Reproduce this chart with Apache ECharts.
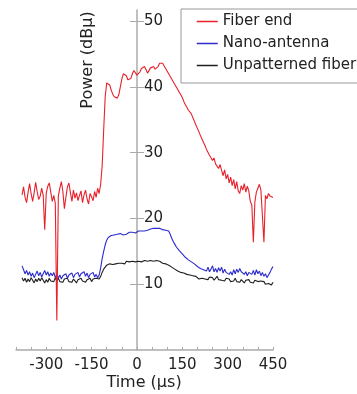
<!DOCTYPE html>
<html>
<head>
<meta charset="utf-8">
<script src="https://cdn.jsdelivr.net/npm/echarts@6/dist/echarts.min.js"></script>
<style>
  html, body { margin: 0; padding: 0; background: #fff; }
  #chart { width: 357px; height: 394px; }
</style>
</head>
<body>
<div id="chart"></div>
<script>
// time samples (µs)
var timeUs = [
  -380, -375, -370, -365, -360, -355, -350, -345, -340, -335,
  -330, -325, -320, -315, -310, -305, -300, -295, -290, -285,
  -280, -275, -270, -265, -260, -255, -250, -245, -240, -235,
  -230, -225, -220, -215, -210, -205, -200, -195, -190, -185,
  -180, -175, -170, -165, -160, -155, -150, -145, -140, -135,
  -130, -125, -120, -115, -110, -105, -100, -95, -90, -85,
  -80, -75, -70, -65, -60, -55, -50, -45, -40, -35,
  -30, -25, -20, -15, -10, -5, 0, 5, 10, 15,
  20, 25, 30, 35, 40, 45, 50, 55, 60, 65,
  70, 75, 80, 85, 90, 95, 100, 105, 110, 115,
  120, 125, 130, 135, 140, 145, 150, 155, 160, 165,
  170, 175, 180, 185, 190, 195, 200, 205, 210, 215,
  220, 225, 230, 235, 240, 245, 250, 255, 260, 265,
  270, 275, 280, 285, 290, 295, 300, 305, 310, 315,
  320, 325, 330, 335, 340, 345, 350, 355, 360, 365,
  370, 375, 380, 385, 390, 395, 400, 405, 410, 415,
  420, 425, 430, 435, 440, 445, 450
];

var fiberEnd = [
  23.6, 24.8, 23.2, 22.4, 24.0, 25.3, 23.8, 22.6, 23.9, 25.5,
  24.1, 22.9, 23.4, 24.6, 23.5, 18.3, 23.8, 24.9, 25.4, 24.0,
  22.6, 23.5, 22.3, 4.5, 23.4, 24.6, 25.6, 24.1, 21.5, 23.2,
  24.8, 25.4, 23.9, 22.6, 24.3, 23.1, 23.9, 22.7, 23.5, 24.2,
  22.4, 23.6, 24.3, 23.0, 22.2, 23.8, 23.3, 22.7, 24.1, 23.2,
  24.6, 23.8, 25.2, 28.0, 33.5, 38.5, 40.6, 40.8, 40.3, 39.5,
  38.9, 38.5, 38.3, 38.3, 38.8, 40.0, 41.2, 42.0, 42.1, 41.7,
  41.1, 40.8, 41.3, 42.0, 42.5, 42.3, 41.8, 41.8, 42.3, 42.8,
  43.1, 43.1, 42.6, 42.1, 42.4, 42.9, 43.2, 43.1, 42.7, 42.6,
  43.1, 43.6, 43.8, 43.6, 43.2, 42.8, 42.4, 42.0, 41.6, 41.2,
  40.8, 40.4, 40.0, 39.6, 39.2, 38.8, 38.4, 37.8, 37.3, 36.9,
  36.5, 36.2, 35.9, 35.3, 34.8, 34.2, 33.7, 33.2, 32.6, 32.1,
  31.6, 31.1, 30.5, 30.8, 29.6, 29.9, 28.8, 29.2, 28.3, 28.6,
  27.6, 28.2, 27.3, 26.5, 27.4, 26.0, 26.7, 25.4, 26.3, 25.0,
  25.9, 24.5, 25.6, 24.2, 23.8, 25.0, 24.3, 25.3, 24.0, 24.9,
  24.2, 22.6, 22.0, 16.4, 22.5, 24.0, 24.6, 25.2, 24.3, 24.0,
  16.4, 23.5, 23.0, 23.8, 23.4, 23.6, 23.2
];

var nanoAntenna = [
  12.8, 12.2, 11.6, 12.1, 11.4, 11.9, 11.2, 11.7, 11.0, 11.5,
  12.0, 11.3, 11.8, 11.1, 11.6, 12.1, 11.4, 11.9, 11.2, 11.7,
  11.3, 11.8, 11.0, 11.5, 10.9, 11.4, 10.8, 11.3, 11.0, 11.6,
  10.9, 11.4, 11.1, 11.7, 11.0, 11.5, 11.2, 11.8, 11.1, 11.6,
  11.3, 11.9, 11.2, 11.7, 11.0, 11.5, 11.2, 11.8, 11.1, 11.5,
  11.0, 11.4, 12.5, 13.9, 15.0, 16.0, 16.7, 17.1, 17.3, 17.4,
  17.2, 17.5, 17.4, 17.6, 17.5, 17.7, 17.6, 17.5, 17.8, 17.6,
  17.7, 17.9, 17.8, 17.9, 18.0, 17.8, 18.0, 18.1, 17.9, 18.1,
  18.2, 18.1, 18.3, 18.2, 18.3, 18.4, 18.3, 18.5, 18.4, 18.5,
  18.4, 18.5, 18.4, 18.3, 18.4, 18.2, 18.3, 18.1, 17.6, 17.0,
  16.5, 16.1, 15.7, 15.4, 15.1, 14.8, 14.6, 14.3, 14.1, 13.9,
  13.7, 13.6, 13.4, 13.2, 13.1, 12.9, 12.7, 12.6, 12.4, 12.5,
  12.2, 12.4, 12.0, 12.6, 11.9, 12.3, 12.8, 11.9, 12.4, 11.8,
  12.5, 12.0, 12.6, 11.7, 12.3, 11.8, 12.1, 11.5, 11.9, 11.4,
  12.2, 11.6, 12.3, 11.8, 12.4, 11.9, 12.2, 11.5, 11.9, 11.3,
  11.8, 12.0, 11.5, 12.1, 11.4, 12.2, 11.6, 12.0, 11.3, 11.8,
  11.2, 11.6, 11.0, 11.4, 11.8, 12.3, 12.7
];

var unpatternedFiber = [
  11.0, 10.5, 10.9, 10.3, 10.8, 10.4, 11.0, 10.6, 10.2, 10.8,
  10.4, 10.9, 10.5, 11.0, 10.6, 10.2, 10.7, 10.3, 10.9, 10.5,
  10.8, 10.4, 11.0, 10.5, 10.9, 10.4, 10.7, 10.3, 10.8, 10.5,
  10.9, 10.4, 10.7, 10.3, 10.8, 10.6, 10.2, 10.7, 10.4, 10.9,
  10.5, 10.8, 10.3, 10.7, 10.5, 10.9, 10.4, 10.8, 10.5, 10.9,
  10.6, 10.8, 11.2, 11.8, 12.3, 12.6, 12.9, 13.0, 13.1, 13.2,
  13.0, 13.3, 13.1, 13.4, 13.2, 13.5, 13.2, 13.4, 13.1, 13.5,
  13.3, 13.4, 13.2, 13.5, 13.3, 13.4, 13.2, 13.5, 13.3, 13.4,
  13.3, 13.6, 13.3, 13.5, 13.2, 13.6, 13.4, 13.5, 13.3, 13.6,
  13.3, 13.5, 13.4, 13.2, 13.4, 13.1, 13.2, 12.9, 12.8, 12.6,
  12.5, 12.3, 12.1, 12.0, 11.8, 11.8, 11.6, 11.7, 11.4, 11.5,
  11.3, 11.4, 11.1, 11.3, 11.0, 11.2, 11.1, 10.8, 11.1, 10.9,
  11.2, 10.8, 11.0, 10.7, 11.1, 10.8, 11.0, 10.6, 10.9, 11.2,
  10.7, 10.9, 10.6, 10.8, 10.5, 10.9, 10.6, 10.8, 10.4, 10.7,
  10.5, 10.9, 10.4, 10.6, 10.3, 10.7, 10.5, 10.2, 10.6, 10.4,
  10.7, 10.3, 10.5, 10.2, 10.6, 10.3, 10.4, 10.1, 10.5, 10.2,
  10.4, 10.0, 10.3, 10.1, 10.2, 9.9, 10.3
];

var xLabelValues = [-300, -150, 0, 150, 300, 450];
var xTickValues = [-400, -350, -300, -250, -200, -150, -100, -50, 0, 50, 100, 150, 200, 250, 300, 350, 400, 450];
var yLabelValues = [10, 20, 30, 40, 50];

var seriesNames = ['Fiber end', 'Nano-antenna', 'Unpatterned fiber'];
var seriesColors = ['#e8202a', '#2b2bcc', '#1e1e1e'];
var seriesValues = [fiberEnd, nanoAntenna, unpatternedFiber];

var font = 'DejaVu Sans';
var axisGray = '#ababab';
// y axis sits on time = 0, which is this many px in from the grid's left edge
var yAxisShift = -121;

var chart = echarts.init(document.getElementById('chart'), null, { renderer: 'canvas' });

var series = seriesValues.map(function (vals, k) {
    return {
        name: seriesNames[k],
        type: 'line',
        symbol: 'none',
        animation: false,
        lineStyle: { color: seriesColors[k], width: 1.1 },
        itemStyle: { color: seriesColors[k] },
        data: timeUs.map(function (t, i) { return [t, vals[i]]; })
    };
});
// draw black first so blue/red sit on top like the original
series = [series[2], series[1], series[0]];

var option = {
    backgroundColor: '#fff',
    animation: false,
    grid: { left: 16, right: 84, top: 10, bottom: 44, outerBoundsMode: 'none' },
    legend: {
        data: seriesNames,
        orient: 'vertical',
        left: 181,
        top: 9,
        padding: [5, 4, 10, 15],
        itemWidth: 21,
        itemHeight: 14,
        itemGap: 7,
        borderColor: '#999',
        borderWidth: 1,
        itemStyle: { opacity: 0 },
        lineStyle: { width: 1.5 },
        textStyle: { fontFamily: font, fontSize: 15, color: '#222' }
    },
    xAxis: {
        type: 'value',
        min: -400,
        max: 450,
        interval: 50,
        axisLine: { onZero: false, lineStyle: { color: axisGray, width: 1.5 } },
        axisTick: { inside: true, length: 3, customValues: xTickValues, lineStyle: { color: axisGray } },
        axisLabel: { customValues: xLabelValues, margin: 8, fontFamily: font, fontSize: 15, color: '#222' },
        splitLine: { show: false }
    },
    yAxis: [{
        type: 'value',
        min: 0,
        max: 51.7,
        position: 'left',
        offset: yAxisShift,
        axisLine: { onZero: false, lineStyle: { color: axisGray, width: 1.5 } },
        axisTick: { inside: true, length: 7, customValues: yLabelValues, lineStyle: { color: axisGray } },
        axisLabel: { inside: true, customValues: yLabelValues, margin: 7, fontFamily: font, fontSize: 15, color: '#222' },
        splitLine: { show: false }
    }, {
        type: 'value',
        min: 0,
        max: 51.7,
        position: 'left',
        offset: yAxisShift,
        axisLine: { show: false, onZero: false },
        axisTick: { inside: false, length: 7, customValues: yLabelValues, lineStyle: { color: axisGray } },
        axisLabel: { show: false },
        splitLine: { show: false }
    }],
    graphic: [{
        type: 'text',
        x: 88,
        y: 60,
        rotation: Math.PI / 2,
        style: {
            text: 'Power (dBµ)',
            fontFamily: font,
            fontSize: 16,
            fill: '#222',
            textAlign: 'center',
            textVerticalAlign: 'middle'
        }
    }, {
        type: 'text',
        x: 144,
        y: 383,
        style: {
            text: 'Time (µs)',
            fontFamily: font,
            fontSize: 16,
            fill: '#222',
            textAlign: 'center',
            textVerticalAlign: 'middle'
        }
    }],
    series: series
};

chart.setOption(option);
</script>
</body>
</html>
